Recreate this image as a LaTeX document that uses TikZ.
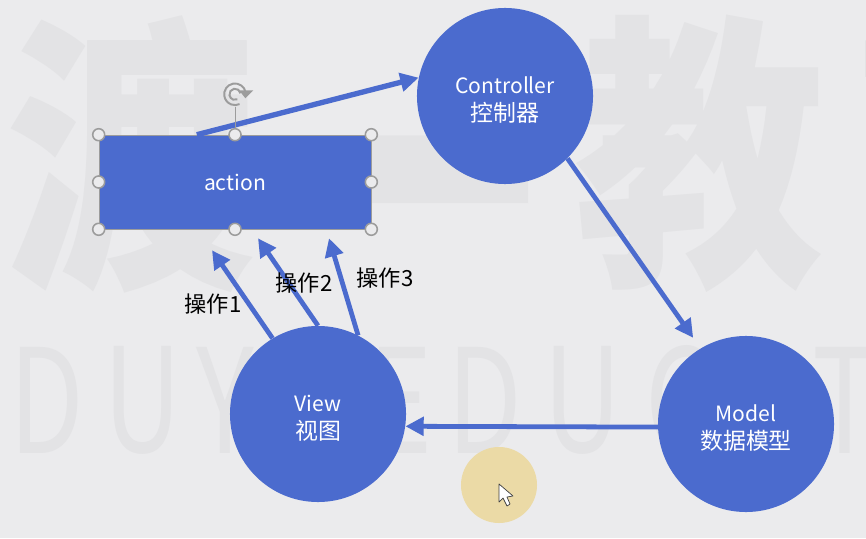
\documentclass[tikz,border=0pt]{standalone}
\usepackage{fontspec}
\usepackage{graphicx}
\setmainfont{Noto Sans CJK SC}
\usetikzlibrary{arrows.meta, calc}
\definecolor{slidebg}{HTML}{EBEBED}
\definecolor{markgray}{HTML}{E3E3E5}
\definecolor{mvcblue}{HTML}{4B6BCE}
\definecolor{handlegray}{HTML}{9C9C9C}
\definecolor{clickyellow}{HTML}{EBDAA6}
\newcommand{\mvctext}[2]{\raisebox{-2.2pt}[12pt][0pt]{#1}\\\raisebox{-2.2pt}[12pt][0pt]{\fontsize{16.3}{20}\selectfont #2}}
\tikzstyle{bigmark} = [text=markgray, font=\bfseries\fontsize{178}{178}\selectfont, inner sep=0pt]
\tikzstyle{latinmark} = [text=markgray, font=\fontsize{103}{103}\selectfont, inner sep=0pt]
\tikzstyle{mvc} = [
    circle,
    fill=mvcblue,
    text=white,
    align=center,
    font=\fontsize{15}{20}\selectfont,
    minimum size=4.4cm
]
\tikzstyle{actionbox} = [
    rectangle,
    draw=handlegray,
    fill=mvcblue,
    text=white,
    font=\fontsize{15}{18}\selectfont,
    minimum width=6.8cm,
    minimum height=2.35cm
]
\tikzstyle{flow} = [line width=3.4pt, draw=mvcblue, -{Triangle[length=13pt, width=13pt]}]
\tikzstyle{oplabel} = [font=\fontsize{15.8}{17}\selectfont, inner sep=0pt]
\tikzstyle{handle} = [circle, draw=handlegray, line width=1.1pt, fill=slidebg, inner sep=0pt, minimum size=0.3cm]

\begin{document}
\begin{tikzpicture}[x=0.025cm, y=-0.025cm]
    % Hintergrund
    \useasboundingbox (0,0) rectangle (866,538);
    \clip (0,0) rectangle (866,538);
    \fill [slidebg] (0,0) rectangle (866,538);
    % Wasserzeichen
    \foreach \xpos/\ypos/\stretch/\glyph in {131/154/1.16/渡, 412/236/1.7/一, 700/154/1.16/教, 978/154/1.16/育}
        \node [bigmark] at (\xpos,\ypos) {\scalebox{1}[\stretch]{\glyph}};
    \foreach \xpos/\glyph in {47/D, 143/U, 225/Y, 293/I, 400/E, 485/D, 583/U, 680/C, 746/A, 845/T}
        \node [latinmark] at (\xpos,400) {\scalebox{0.75}[1]{\glyph}};
    % Knoten
    \node (controller) [mvc] at (505,96) {\mvctext{Controller}{控制器}};
    \node (model) [mvc] at (746,424) {\mvctext{Model}{数据模型}};
    \node (view) [mvc] at (318,414) {\mvctext{View}{视图}};
    \node (action) [actionbox] at (235,182) {action};
    \node (click) [circle, fill=clickyellow, minimum size=1.9cm] at (499,485) {};
    % Hilfspunkte
    \coordinate (actionout) at ($(action.north west)!0.36!(action.north east)$);
    \coordinate (op1) at ([shift={(-23,21)}]action.south);
    \coordinate (op2) at ([shift={(23,9)}]action.south);
    \coordinate (op3) at ([shift={(94,9)}]action.south);
    % Pfeile
    \draw [flow, line width=3.8pt] (actionout) -- (controller.168);
    \draw [flow, shorten >=0.32cm] (controller.-45) -- (model.121);
    \draw [flow] (model.182) -- (view.-8.5);
    \draw [flow] (view.121) -- (op1);
    \draw [flow] (view.north) -- (op2);
    \draw [flow] (view.63) -- (op3);
    % Beschriftungen
    \node (label1) [oplabel] at (213,304) {操作1};
    \node (label2) [oplabel] at (304,283) {操作2};
    \node (label3) [oplabel] at (385,278) {操作3};
    % Griffe
    \coordinate (turn) at ([yshift=0.68cm]action.north);
    \coordinate (turnc) at ([yshift=0.33cm]turn);
    \draw [handlegray, line width=0.7pt] (action.north) -- (turn);
    \draw [handlegray, line width=1.4pt] ([shift={(10:0.27cm)}]turnc) arc (10:295:0.27cm);
    \draw [handlegray, line width=1.4pt] ([shift={(10:0.14cm)}]turnc) arc (10:295:0.14cm);
    \fill [handlegray] ([shift={(0.1cm,0.1cm)}]turnc) -- ++(0.36cm,0) -- ++(-0.2cm,-0.2cm) -- cycle;
    \foreach \anchorname in {north west, north, north east, west, east, south west, south, south east}
        \node [handle] at (action.\anchorname) {};
    % Mauszeiger
    \draw [black!75, fill=white, line width=0.5pt, line join=round]
        (499,484) -- (499,502) -- (503,498) -- (507,506) -- (510,504) -- (507,497) -- (513,496) -- cycle;
\end{tikzpicture}
\end{document}
